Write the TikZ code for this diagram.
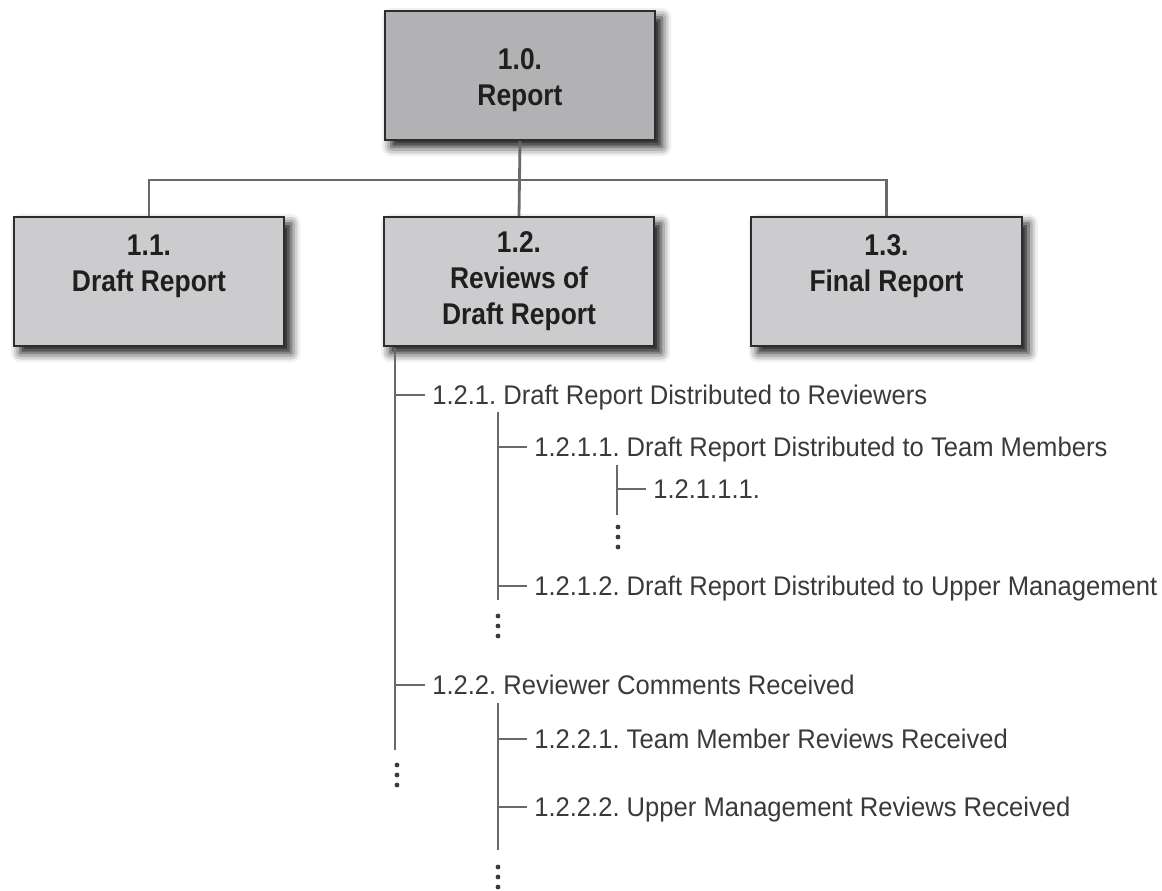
\documentclass[tikz,border=0pt]{standalone}
\usepackage{fontspec}
\usetikzlibrary{shadows.blur}
\frenchspacing
\newfontfamily\boxfont[FakeStretch=0.88]{Liberation Sans}
\newfontfamily\treefont[FakeStretch=0.95]{Liberation Sans}
\definecolor{topfill}{RGB}{178,178,181}
\definecolor{subfill}{RGB}{204,204,206}
\definecolor{edgegray}{RGB}{45,45,45}
\definecolor{linegray}{RGB}{105,105,105}
\definecolor{txtgray}{RGB}{58,58,58}
\begin{document}
\frenchspacing
\begin{tikzpicture}[x=0.75pt,y=-0.75pt,
  wbs/.style={draw=edgegray, line width=1.6pt, minimum width=203pt, minimum height=97pt,
    align=center, inner sep=0pt, text=black!88,
    font=\boxfont\bfseries\fontsize{22.5pt}{27pt}\selectfont,
    blur shadow={shadow xshift=5pt, shadow yshift=-5pt, shadow blur radius=7pt, shadow opacity=95}},
  conn/.style={draw=linegray, line width=2.1pt},
  leaf/.style={anchor=west, inner xsep=5.25pt, inner ysep=0pt, text height=14.2pt, text depth=0pt,
    text=txtgray, font=\treefont\fontsize{20.2pt}{24pt}\selectfont},
  dotmark/.style={fill=txtgray, draw=none}
]
\useasboundingbox (0,0) rectangle (1162,890);

% connectors from the top box
\coordinate (bus) at (519,180);

% top-level boxes
\node[wbs, fill=topfill] (b10) at (520,75.5) {\rule{0pt}{22pt}1.0.\\Report};
\node[wbs, fill=subfill] (b11) at (149,281.5) {1.1.\\Draft Report\\\mbox{}};
\node[wbs, fill=subfill] (b12) at (519,281.5) {1.2.\\Reviews of\\Draft Report};
\node[wbs, fill=subfill] (b13) at (886.5,281.5) {1.3.\\Final Report\\\mbox{}};

\draw[conn] (b10.south) -- (b12.north);
\draw[conn] (b11.north) -- (b11.north |- bus) -- (b13.north |- bus) -- (b13.north);

% tree items
\node[leaf] (t121)   at (425,395) {1.2.1. Draft Report Distributed to Reviewers};
\node[leaf] (t1211)  at (527,447) {1.2.1.1. Draft Report Distributed to Team Members};
\node[leaf] (t12111) at (646,489) {1.2.1.1.1.};
\node[leaf] (t1212)  at (527,586) {1.2.1.2. Draft Report Distributed to Upper Management};
\node[leaf] (t122)   at (425,685) {1.2.2. Reviewer Comments Received};
\node[leaf] (t1221)  at (527,739) {1.2.2.1. Team Member Reviews Received};
\node[leaf] (t1222)  at (527,807) {1.2.2.2. Upper Management Reviews Received};

% tree spines
\coordinate (m0) at (395,348);
\coordinate (m1) at (395,750);
\coordinate (a0) at (498,412);
\coordinate (a1) at (498,600);
\coordinate (c0) at (617,465);
\coordinate (c1) at (617,515);
\coordinate (d0) at (498,703);
\coordinate (d1) at (498,850);

\draw[conn] (m0) -- (m1);
\draw[conn] (t121.west -| m0) -- (t121.west);
\draw[conn] (t122.west -| m0) -- (t122.west);
\draw[conn] (a0) -- (a1);
\draw[conn] (t1211.west -| a0) -- (t1211.west);
\draw[conn] (t1212.west -| a0) -- (t1212.west);
\draw[conn] (c0) -- (c1);
\draw[conn] (t12111.west -| c0) -- (t12111.west);
\draw[conn] (d0) -- (d1);
\draw[conn] (t1221.west -| d0) -- (t1221.west);
\draw[conn] (t1222.west -| d0) -- (t1222.west);

% continuation dots
\foreach \x/\y in {397/775, 498/626, 618/537, 498/877}{
  \foreach \d in {-10,0,10}{
    \fill[dotmark] (\x,\y+\d) circle (1.8pt);
  }
}
\end{tikzpicture}
\end{document}
